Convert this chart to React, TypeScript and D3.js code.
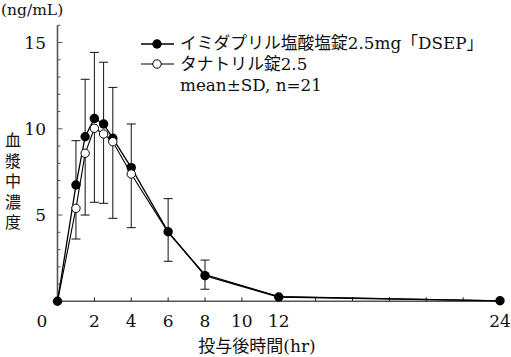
import React from "react";
import * as d3 from "d3";

const times = [0, 1, 1.5, 2, 2.5, 3, 4, 6, 8, 12, 24];
const dsepMean = [0, 6.74, 9.54, 10.6, 10.28, 9.45, 7.75, 4.03, 1.49, 0.25, 0.03];
const dsepSD = [0, 2.57, 3.33, 3.83, 3.58, 2.95, 2.53, 1.92, 0.9, 0, 0];
const tanaMean = [0, 5.39, 8.58, 10.03, 9.7, 9.25, 7.38, 4.0, 1.55, 0.27, 0.03];
const tanaSD = [0, 1.78, 3.58, 4.29, 4.02, 4.44, 3.11, 1.68, 0.85, 0, 0];
const xTickLabels = [2, 4, 6, 8, 10, 12, 24];
const xTickMarks = [2, 4, 6, 8, 10, 12, 14, 16, 18, 20, 22, 24];
const yTickLabels = [5, 10, 15];
const yMinorTicks = d3.range(1, 17);
const legendLabels = ["イミダプリル塩酸塩錠2.5mg「DSEP」", "タナトリル錠2.5", "mean±SD, n=21"];
const yLabel = "血漿中濃度";
const xLabel = "投与後時間(hr)";
const unitLabel = "(ng/mL)";

const FONT = "'DejaVu Serif', 'Noto Sans CJK JP', serif";
const JFONT = "'Noto Sans CJK JP', sans-serif";

export default function App() {
  const x = d3.scaleLinear().domain([0, 24]).range([57.5, 500]);
  const y = d3.scaleLinear().domain([0, 16]).range([301.3, 25.3]);
  const line = d3
    .line<[number, number]>()
    .x((d) => x(d[0]))
    .y((d) => y(d[1]));
  const dsepPts: [number, number][] = times.map((t, i) => [t, dsepMean[i]]);
  const tanaPts: [number, number][] = times.map((t, i) => [t, tanaMean[i]]);
  const axisColor = "#555";
  const cap = 4.5;

  return (
    <svg
      width={511}
      height={357}
      style={{ position: "absolute", left: 0, top: 0, background: "#fff" }}
    >
      <rect width={511} height={357} fill="#fff" />
      {/* axes */}
      <line x1={x(0)} x2={x(0)} y1={y(0)} y2={y(16)} stroke={axisColor} strokeWidth={1.6} />
      <line x1={x(0)} x2={x(24)} y1={y(0)} y2={y(0)} stroke={axisColor} strokeWidth={1.6} />
      {yMinorTicks.map((v) => (
        <line
          key={"ym" + v}
          x1={x(0)}
          x2={x(0) + (v % 5 === 0 ? 5 : 3)}
          y1={y(v)}
          y2={y(v)}
          stroke={axisColor}
          strokeWidth={1}
        />
      ))}
      {xTickMarks.map((v) => (
        <line
          key={"xm" + v}
          x1={x(v)}
          x2={x(v)}
          y1={y(0)}
          y2={y(0) - 4}
          stroke="#222"
          strokeWidth={1}
        />
      ))}
      {yTickLabels.map((v) => (
        <text
          key={"yl" + v}
          x={46}
          y={y(v)}
          dy="0.36em"
          textAnchor="end"
          fontFamily={FONT}
          fontSize={17}
          fill="#111"
        >
          {v}
        </text>
      ))}
      <text x={42} y={327} textAnchor="middle" fontFamily={FONT} fontSize={17} fill="#111">
        0
      </text>
      {xTickLabels.map((v) => (
        <text
          key={"xl" + v}
          x={x(v)}
          y={327}
          textAnchor="middle"
          fontFamily={FONT}
          fontSize={17}
          fill="#111"
        >
          {v}
        </text>
      ))}
      <text x={1} y={15} fontFamily={FONT} fontSize={15.5} fill="#111">
        {unitLabel}
      </text>
      <text
        x={13}
        y={132}
        fontFamily={JFONT}
        fontSize={16}
        fill="#111"
        letterSpacing={4.5}
        style={{ writingMode: "vertical-rl" as any }}
      >
        {yLabel}
      </text>
      <text x={257} y={352} textAnchor="middle" fontFamily={FONT} fontSize={17} fill="#111">
        {xLabel}
      </text>

      {/* error bars */}
      {times.map((t, i) =>
        dsepSD[i] > 0 ? (
          <g key={"eu" + i} stroke="#111" strokeWidth={1}>
            <line x1={x(t)} x2={x(t)} y1={y(dsepMean[i])} y2={y(dsepMean[i] + dsepSD[i])} />
            <line
              x1={x(t) - cap}
              x2={x(t) + cap}
              y1={y(dsepMean[i] + dsepSD[i])}
              y2={y(dsepMean[i] + dsepSD[i])}
            />
          </g>
        ) : null
      )}
      {times.map((t, i) =>
        tanaSD[i] > 0 ? (
          <g key={"ed" + i} stroke="#111" strokeWidth={1}>
            <line x1={x(t)} x2={x(t)} y1={y(tanaMean[i])} y2={y(tanaMean[i] - tanaSD[i])} />
            <line
              x1={x(t) - cap}
              x2={x(t) + cap}
              y1={y(tanaMean[i] - tanaSD[i])}
              y2={y(tanaMean[i] - tanaSD[i])}
            />
          </g>
        ) : null
      )}

      {/* lines */}
      <path d={line(dsepPts) || ""} fill="none" stroke="#000" strokeWidth={1.3} />
      <path d={line(tanaPts) || ""} fill="none" stroke="#000" strokeWidth={1.1} />

      {/* markers */}
      {dsepPts.map((p, i) => (
        <circle key={"fd" + i} cx={x(p[0])} cy={y(p[1])} r={4.7} fill="#000" />
      ))}
      {tanaPts.map((p, i) =>
        i === 0 || i >= 7 ? null : (
          <circle
            key={"ot" + i}
            cx={x(p[0])}
            cy={y(p[1])}
            r={4.2}
            fill="#fff"
            stroke="#000"
            strokeWidth={1}
          />
        )
      )}

      {/* legend */}
      <line x1={141} x2={174} y1={44} y2={44} stroke="#000" strokeWidth={1.3} />
      <circle cx={157} cy={44} r={4.7} fill="#000" />
      <line x1={141} x2={174} y1={64} y2={64} stroke="#000" strokeWidth={1.1} />
      <circle cx={157} cy={64} r={4.2} fill="#fff" stroke="#000" strokeWidth={1} />
      {legendLabels.map((s, i) => (
        <text
          key={"lg" + i}
          x={180}
          y={49 + i * 21}
          fontFamily={FONT}
          fontSize={16.8}
          fill="#111"
        >
          {s}
        </text>
      ))}
    </svg>
  );
}
